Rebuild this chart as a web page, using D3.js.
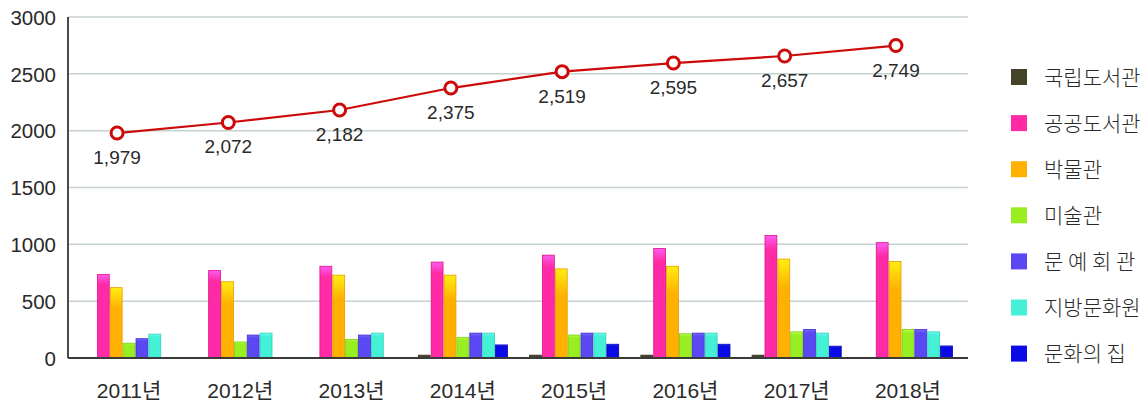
<!doctype html>
<html>
<head>
  <meta charset="utf-8">
  <title>문화기반시설 현황</title>
  <style>
    body { margin: 0; background: #fff; }
    svg text { font-family: "Liberation Sans", "Noto Sans CJK KR", sans-serif; fill: #2a2a2a; }
    .kr { font-family: "Noto Sans CJK KR", sans-serif; font-weight: 300; }
  </style>
</head>
<body>
  <svg id="chart" width="1148" height="405"></svg>
  <script src="https://d3js.org/d3.v7.min.js"></script>
  <script>
    // 연도
    const years = ['2011년', '2012년', '2013년', '2014년', '2015년', '2016년', '2017년', '2018년'];
    // 시설 종류
    const series = ['국립도서관', '공공도서관', '박물관', '미술관', '문 예 회 관', '지방문화원', '문화의 집'];
    const national = [0, 0, 0, 25, 25, 25, 25, 4];
    const publicLib = [735, 770, 807, 844, 905, 963, 1078, 1015];
    const museum = [619, 671, 729, 729, 784, 807, 870, 850];
    const artMuseum = [130, 141, 164, 182, 202, 213, 230, 251];
    const artsHall = [170, 202, 202, 219, 219, 219, 251, 251];
    const culturalCenter = [210, 219, 219, 219, 219, 219, 219, 230];
    const cultureHouse = [0, 0, 0, 115, 121, 121, 104, 106];
    // 합계 (꺾은선)
    const totals = [1979, 2072, 2182, 2375, 2519, 2595, 2657, 2749];
    const yTicks = [0, 500, 1000, 1500, 2000, 2500, 3000];

    const values = [national, publicLib, museum, artMuseum, artsHall, culturalCenter, cultureHouse];
    const colors = ['#45432a', '#ff2aa5', '#ffb000', '#99ee22', '#5a48f2', '#44f0d6', '#0a0ae6'];
    const topColors = ['#55553a', '#ff5cf0', '#ffee10', '#bbff55', '#7a6aff', '#77fff0', '#3a44ff'];
    const edgeColors = ['#333322', '#e0108a', '#e89a00', '#7ccc10', '#4030d0', '#2cd0b8', '#0000b0'];

    const svg = d3.select('#chart');
    const plotLeft = 68, plotRight = 968, plotTop = 17, plotBottom = 358;

    const x = d3.scaleBand().domain(years).range([84, 953]).paddingInner(0.19).paddingOuter(0);
    const xs = d3.scaleBand().domain(series).range([0, x.bandwidth()]);
    const y = d3.scaleLinear().domain([0, 3000]).range([plotBottom, plotTop]);

    // gradients
    const defs = svg.append('defs');
    series.forEach((s, i) => {
      const g = defs.append('linearGradient').attr('id', 'g' + i)
        .attr('x1', 0).attr('y1', 0).attr('x2', 0).attr('y2', 1);
      g.append('stop').attr('offset', '0%').attr('stop-color', topColors[i]);
      g.append('stop').attr('offset', i === 2 ? '30%' : '12%').attr('stop-color', colors[i]);
      g.append('stop').attr('offset', '100%').attr('stop-color', colors[i]);
    });

    // grid
    svg.append('g').selectAll('line').data(yTicks.filter(d => d > 0)).join('line')
      .attr('x1', plotLeft).attr('x2', plotRight)
      .attr('y1', d => y(d)).attr('y2', d => y(d))
      .attr('stroke', '#c6d2cf').attr('stroke-width', 1.5);

    // y tick labels
    svg.append('g').selectAll('text').data(yTicks).join('text')
      .attr('x', plotLeft - 12).attr('y', d => y(d)).attr('dy', '0.38em')
      .attr('text-anchor', 'end').attr('font-size', 20.5)
      .text(d => d);

    // bars
    const groups = svg.append('g').selectAll('g').data(years).join('g')
      .attr('transform', d => `translate(${x(d)},0)`);
    groups.selectAll('rect')
      .data((d, yi) => series.map((s, si) => ({ s, si, v: values[si][yi] })).filter(e => e.v > 0))
      .join('rect')
      .attr('x', d => xs(d.s) + 0.5)
      .attr('width', xs.bandwidth() - 1)
      .attr('y', d => y(d.v))
      .attr('height', d => y(0) - y(d.v))
      .attr('fill', d => `url(#g${d.si})`)
      .attr('stroke', d => edgeColors[d.si]).attr('stroke-width', 0.8);

    // axes lines
    svg.append('line').attr('x1', plotLeft).attr('x2', plotLeft).attr('y1', plotTop).attr('y2', plotBottom)
      .attr('stroke', '#4a4a4a').attr('stroke-width', 2);
    svg.append('line').attr('x1', plotLeft).attr('x2', plotRight).attr('y1', plotBottom).attr('y2', plotBottom)
      .attr('stroke', '#3a3a3a').attr('stroke-width', 2);

    // x labels
    svg.append('g').selectAll('text').data(years).join('text')
      .attr('x', d => x(d) + x.bandwidth() / 2).attr('y', 398)
      .attr('text-anchor', 'middle').attr('font-size', 21)
      .text(d => d);

    // total line
    const lineOffset = -12;
    const px = i => x(years[i]) + x.bandwidth() / 2 + lineOffset;
    const line = d3.line().x((d, i) => px(i)).y(d => y(d));
    svg.append('path').datum(totals).attr('d', line)
      .attr('fill', 'none').attr('stroke', '#cc0a0a').attr('stroke-width', 2.2);
    svg.append('g').selectAll('circle').data(totals).join('circle')
      .attr('cx', (d, i) => px(i)).attr('cy', d => y(d)).attr('r', 6)
      .attr('fill', '#fff').attr('stroke', '#cc0a0a').attr('stroke-width', 3);
    svg.append('g').selectAll('text').data(totals).join('text')
      .attr('x', (d, i) => px(i)).attr('y', d => y(d) + 31)
      .attr('text-anchor', 'middle').attr('font-size', 19)
      .text(d => d3.format(',')(d));

    // legend
    const legend = svg.append('g').selectAll('g').data(series).join('g')
      .attr('transform', (d, i) => `translate(1011,${77 + i * 46.1})`);
    legend.append('rect').attr('x', 0).attr('y', -8).attr('width', 16).attr('height', 16)
      .attr('fill', (d, i) => colors[i]);
    legend.append('text').attr('class', 'kr')
      .attr('x', 33).attr('y', 0).attr('dy', '0.36em')
      .attr('font-size', 21)
      .text(d => d);
  </script>
</body>
</html>
